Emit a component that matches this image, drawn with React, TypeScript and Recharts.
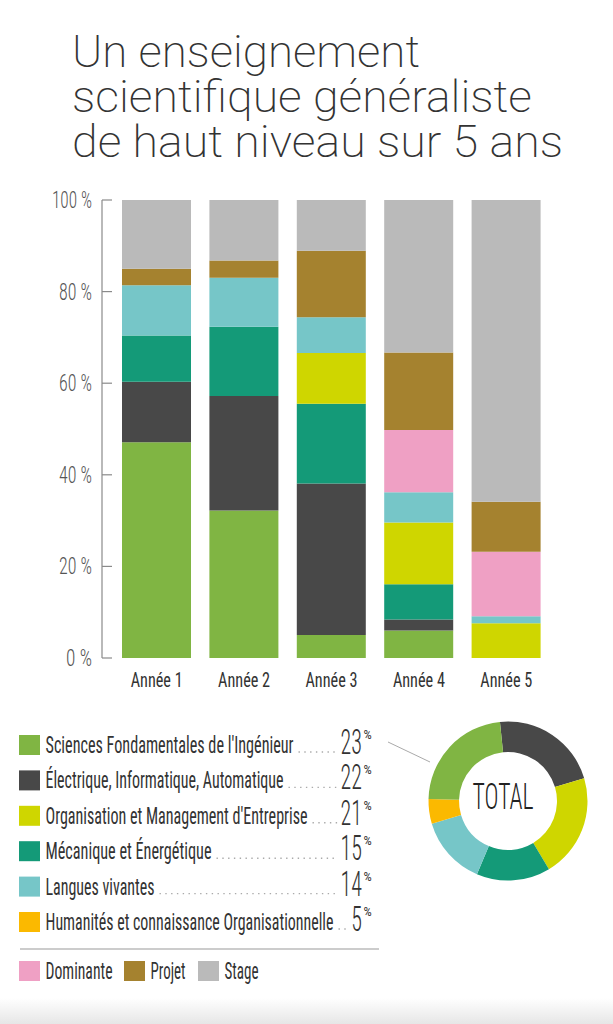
import { BarChart, Bar, XAxis, YAxis, PieChart, Pie, Cell } from "recharts"

// années et répartition (en %) par domaine
const years = ["Année 1", "Année 2", "Année 3", "Année 4", "Année 5"]
const sfi = [47.1, 32.2, 5.0, 6.0, 0]
const eia = [13.2, 25.0, 33.1, 2.4, 0]
const meca = [10.1, 15.1, 17.4, 7.7, 0]
const ome = [0, 0, 11.1, 13.5, 7.6]
const langues = [11.0, 10.7, 7.8, 6.6, 1.5]
const dominante = [0, 0, 0, 13.6, 14.1]
const projet = [3.6, 3.8, 14.5, 16.9, 10.9]
const stage = [15.0, 13.2, 11.1, 33.3, 65.9]

const yTicks = [0, 20, 40, 60, 80, 100]

// légende du total
const totalLabels = [
  "Sciences Fondamentales de l'Ingénieur",
  "Électrique, Informatique, Automatique",
  "Organisation et Management d'Entreprise",
  "Mécanique et Énergétique",
  "Langues vivantes",
  "Humanités et connaissance Organisationnelle",
]
const totalValues = [23, 22, 21, 15, 14, 5]
const extraLabels = ["Dominante", "Projet", "Stage"]

// ordre de l'anneau, dans le sens horaire depuis le haut
const donutOrder = [1, 2, 3, 4, 5, 0]

const COLORS = {
  sfi: "#80b543",
  eia: "#484848",
  ome: "#cfd600",
  meca: "#149a78",
  langues: "#76c6c8",
  huma: "#fbb900",
  dominante: "#efa0c4",
  projet: "#a5822f",
  stage: "#bababa",
}
const totalColors = [COLORS.sfi, COLORS.eia, COLORS.ome, COLORS.meca, COLORS.langues, COLORS.huma]
const extraColors = [COLORS.dominante, COLORS.projet, COLORS.stage]

const series = [
  { key: "sfi", values: sfi },
  { key: "eia", values: eia },
  { key: "meca", values: meca },
  { key: "ome", values: ome },
  { key: "langues", values: langues },
  { key: "dominante", values: dominante },
  { key: "projet", values: projet },
  { key: "stage", values: stage },
]

const chartData = years.map((year, i) => {
  const row: any = { year }
  series.forEach((s) => (row[s.key] = s.values[i]))
  return row
})

const donutData = donutOrder.map((idx) => ({
  name: totalLabels[idx],
  value: totalValues[idx],
  color: totalColors[idx],
}))

const NARROW = "'Liberation Sans Narrow', 'Roboto Condensed', 'DejaVu Sans Condensed', Roboto, sans-serif"
const TITLE_FONT = "Roboto, Lato, 'Open Sans', sans-serif"

const YTick = ({ x, y, payload }: any) => {
  const label = `${payload.value} %`
  const digits = String(payload.value).length
  return (
    <g>
      <line x1={x} x2={x + 10} y1={y} y2={y} stroke="#8a8a8a" strokeWidth={1.2} />
      <text
        x={x - 10}
        y={y + 8}
        textAnchor="end"
        fontFamily={NARROW}
        fontWeight={300}
        fontSize={24}
        fill="#555"
        textLength={7 * digits + 19}
        lengthAdjust="spacingAndGlyphs"
      >
        {label}
      </text>
    </g>
  )
}

const XTick = ({ x, y, payload }: any) => (
  <text
    x={x}
    y={y + 29}
    textAnchor="middle"
    fontFamily={NARROW}
    fontSize={20}
    fill="#333"
    textLength={52}
    lengthAdjust="spacingAndGlyphs"
  >
    {payload.value}
  </text>
)

// mesures des libellés de la légende (px)
const labelWidths = [248, 238, 262, 166, 109, 288]
const extraWidths = [67, 35, 34]
const extraX = [19, 124, 198]

export default function App() {
  const rowGap = 35.4
  return (
    <div style={{ position: "relative", width: 613, height: 1024, background: "#fff", overflow: "hidden" }}>
      <style>{`body{margin:0}`}</style>

      <div style={{ position: "absolute", left: 0, top: 0 }}>
        <BarChart
          width={613}
          height={700}
          data={chartData}
          margin={{ top: 200, right: 63, left: 0, bottom: 12 }}
          barSize={69}
        >
          <XAxis
            dataKey="year"
            axisLine={false}
            tickLine={false}
            tickSize={0}
            tickMargin={0}
            height={30}
            padding={{ left: 11, right: 0 }}
            tick={<XTick />}
            interval={0}
          />
          <YAxis
            width={102}
            domain={[0, 100]}
            ticks={yTicks}
            tickSize={0}
            tickMargin={0}
            tickLine={false}
            axisLine={{ stroke: "#8a8a8a", strokeWidth: 1.2 }}
            tick={<YTick />}
            interval={0}
          />
          {series.map((s) => (
            <Bar
              key={s.key}
              dataKey={s.key}
              stackId="a"
              fill={(COLORS as any)[s.key]}
              isAnimationActive={false}
            />
          ))}
        </BarChart>
      </div>

      <div style={{ position: "absolute", left: 413, top: 706 }}>
        <PieChart width={180} height={180}>
          <Pie
            data={donutData}
            dataKey="value"
            cx={90}
            cy={90}
            innerRadius={49}
            outerRadius={79.5}
            startAngle={95.8}
            endAngle={-264.2}
            stroke="none"
            isAnimationActive={false}
          >
            {donutData.map((d, i) => (
              <Cell key={`cell-${i}`} fill={d.color} />
            ))}
          </Pie>
        </PieChart>
      </div>

      <svg
        width={613}
        height={1024}
        style={{ position: "absolute", left: 0, top: 0, pointerEvents: "none" }}
      >
        {/* Titre */}
        <g fontFamily={TITLE_FONT} fontWeight={200} fontSize={45} fill="#333">
          <text x={72} y={67} textLength={348} lengthAdjust="spacingAndGlyphs">Un enseignement</text>
          <text x={72} y={112} textLength={460} lengthAdjust="spacingAndGlyphs">scientifique généraliste</text>
          <text x={72} y={157} textLength={491} lengthAdjust="spacingAndGlyphs">de haut niveau sur 5 ans</text>
        </g>

        {/* Légende du total */}
        {totalLabels.map((label, i) => {
          const top = 735 + i * rowGap
          const base = top + 18
          const num = String(totalValues[i])
          const numW = num.length * 10.7
          const textEnd = 45.5 + labelWidths[i]
          return (
            <g key={label}>
              <rect x={19} y={top} width={21} height={20} fill={totalColors[i]} />
              <text
                x={45.5}
                y={base}
                fontFamily={NARROW}
                fontSize={23}
                fill="#333"
                textLength={labelWidths[i]}
                lengthAdjust="spacingAndGlyphs"
              >
                {label}
              </text>
              <line
                x1={textEnd + 5}
                x2={362 - numW - 3}
                y1={base - 1}
                y2={base - 1}
                stroke="#aaa"
                strokeWidth={1.4}
                strokeDasharray="1.4 4.4"
              />
              <text x={362 - numW} y={base + 1} fontFamily={NARROW} fill="#333">
                <tspan fontSize={35} fontWeight={300} textLength={numW} lengthAdjust="spacingAndGlyphs">
                  {num}
                </tspan>
                <tspan fontSize={13} dx={1.5} dy={-15}>%</tspan>
              </text>
            </g>
          )
        })}

        <line x1={20} x2={379} y1={949} y2={949} stroke="#cccccc" strokeWidth={2} />

        {extraLabels.map((label, i) => (
          <g key={label}>
            <rect x={extraX[i]} y={961} width={21} height={20} fill={extraColors[i]} />
            <text
              x={extraX[i] + 26.5}
              y={979}
              fontFamily={NARROW}
              fontSize={23}
              fill="#333"
              textLength={extraWidths[i]}
              lengthAdjust="spacingAndGlyphs"
            >
              {label}
            </text>
          </g>
        ))}

        {/* trait de rappel vers l'anneau */}
        <line x1={388} y1={742} x2={430} y2={762} stroke="#aaa" strokeWidth={1} />

        <text
          x={503}
          y={809}
          textAnchor="middle"
          fontFamily={NARROW}
          fontWeight={300}
          fontSize={36}
          fill="#222"
          textLength={61}
          lengthAdjust="spacingAndGlyphs"
        >
          TOTAL
        </text>
      </svg>

      <div
        style={{
          position: "absolute",
          left: 0,
          top: 998,
          width: 613,
          height: 26,
          background: "linear-gradient(to bottom, rgba(255,255,255,0), #e6e6e6)",
        }}
      />
    </div>
  )
}
